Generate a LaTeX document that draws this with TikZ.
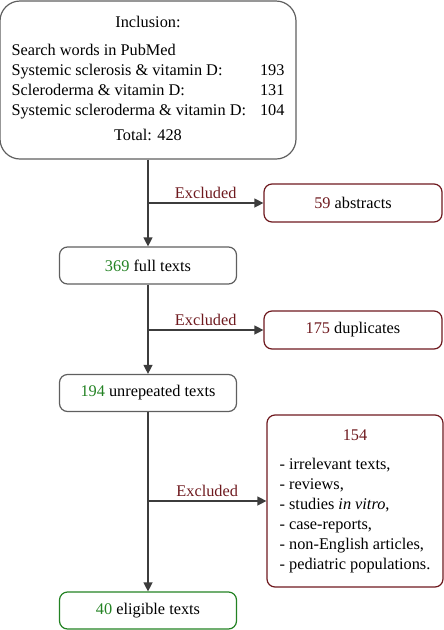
\documentclass[tikz,border=0pt]{standalone}
\usepackage{fontspec}
\setmainfont{Liberation Serif}
\usepackage{tikz}
\usetikzlibrary{arrows.meta}
\usetikzlibrary{positioning}
\definecolor{exred}{RGB}{110,25,30}
\definecolor{ingreen}{RGB}{35,130,35}
\definecolor{boxgray}{RGB}{95,95,95}
\definecolor{linegray}{RGB}{60,60,60}
\begin{document}
\begin{tikzpicture}[x=1pt,y=-1pt,
every node/.style={font=\fontsize{16.3}{20}\selectfont},
box/.style={draw=boxgray, line width=1.2pt, rounded corners=8pt, minimum width=177pt, minimum height=37pt, inner sep=0pt},
outbox/.style={box, draw=exred, minimum width=178pt, minimum height=38pt},
flow/.style={draw=linegray, line width=1.3pt, -{Triangle[length=9pt,width=9pt]}},
exlabel/.style={text=exred, above, inner sep=4pt}]
\useasboundingbox (0,0) rectangle (444,630);
\node[box, rounded corners=20pt, minimum width=296pt, minimum height=158pt] (incl) at (148,80)
{\begin{tabular}{@{}l@{\hspace{14pt}}r@{}}
\multicolumn{2}{c}{Inclusion:}\\[8pt]
Search words in PubMed & \\
Systemic sclerosis \& vitamin D: & 193\\
Scleroderma \& vitamin D: & 131\\
Systemic scleroderma \& vitamin D: & 104\\[5pt]
\multicolumn{2}{c}{Total: 428}
\end{tabular}};
\node[box] (full) at (148,265.5) {\textcolor{ingreen}{369} full texts};
\node[box] (unrep) at (148,393) {\textcolor{ingreen}{194} unrepeated texts};
\node[box, draw=ingreen] (elig) at (148,610.5) {\textcolor{ingreen}{40} eligible texts};
\node[outbox] (abstr) at (353,203) {\textcolor{exred}{59} abstracts};
\node[outbox] (dupl) at (353,330) {\textcolor{exred}{175} duplicates};
\node[outbox, minimum width=176pt, minimum height=172pt] (other) at (355,501)
{\begin{tabular}{@{}l@{}}
\multicolumn{1}{c}{\textcolor{exred}{154}}\\[9pt]
- irrelevant texts,\\
- reviews,\\
- studies \textit{in vitro},\\
- case-reports,\\
- non-English articles,\\
- pediatric populations.
\end{tabular}};
% main flow
\draw[flow] (incl) -- (full);
\draw[flow] (full) -- (unrep);
\draw[flow] (unrep) -- (elig);
% excluded branches
\draw[flow] (incl.south |- abstr.west) -- node[exlabel]{Excluded} (abstr.west);
\draw[flow] (full.south |- dupl.west) -- node[exlabel]{Excluded} (dupl.west);
\draw[flow] (unrep.south |- other.west) -- node[exlabel]{Excluded} (other.west);
\end{tikzpicture}
\end{document}
